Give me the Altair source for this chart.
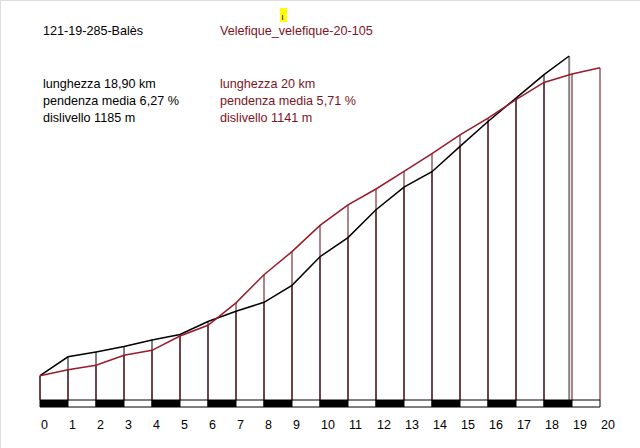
import altair as alt
import pandas as pd

# Balès profile (km, metres gained from start)
km_bales = [0, 1, 2, 3, 4, 5, 6, 7, 8, 9, 10, 11, 12, 13, 14, 15, 16, 17, 18, 18.9]
gain_bales = [0, 70, 88, 108, 132, 153, 201, 239, 272, 335, 441, 512, 615, 699, 756, 850, 942, 1029, 1116, 1185]

# Velefique profile
km_vel = list(range(0, 21))
gain_vel = [0, 22, 39, 76, 94, 147, 187, 270, 374, 460, 557, 633, 692, 757, 823, 893, 955, 1023, 1087, 1118, 1141]

# km scale
tick_km = list(range(0, 21))
seg_start = list(range(0, 20))

title_bales = "121-19-285-Balès"
title_vel = "Velefique_velefique-20-105"
info_bales = ["lunghezza 18,90 km", "pendenza media 6,27 %", "dislivello 1185 m"]
info_vel = ["lunghezza 20 km", "pendenza media 5,71 %", "dislivello 1141 m"]

RED = "#9a1a2a"
RED_TXT = "#7c1424"
VERT = "#5a0a14"
FONT = "Liberation Sans"

df_b = pd.DataFrame({"km": km_bales, "gain": gain_bales})
df_v = pd.DataFrame({"km": km_vel, "gain": gain_vel})
df_bv = df_b[df_b["km"] == df_b["km"].round()]
df_end = df_b[df_b["km"] == 18.9]
df_seg = pd.DataFrame({"s": seg_start, "e": [s + 1 for s in seg_start],
                       "fill": ["black" if s % 2 == 0 else "white" for s in seg_start]})
df_ticks = pd.DataFrame({"km": tick_km, "lab": [str(k) for k in tick_km]})

xs = alt.Scale(domain=[-40 / 28, 600 / 28], range=[0, 640], nice=False, zero=False)
ys = alt.Scale(domain=[-268, 1392.5], range=[448, 0], nice=False, zero=False)

X = lambda f="km": alt.X(f"{f}:Q", scale=xs, axis=None)
Y = alt.Y("gain:Q", scale=ys, axis=None)

base_line = alt.value(400)

vb = alt.Chart(df_bv).mark_rule(color="black", strokeWidth=1).encode(x=X(), y=Y, y2=base_line)
vv = alt.Chart(df_v).mark_rule(color=VERT, strokeWidth=1).encode(x=X(), y=Y, y2=base_line)
vend = alt.Chart(df_end).mark_rule(color="#858585", strokeWidth=2).encode(x=X(), y=Y, y2=base_line)

lb = alt.Chart(df_b).mark_line(color="black", strokeWidth=1.5).encode(x=X(), y=Y)
lv = alt.Chart(df_v).mark_line(color=RED, strokeWidth=1.5).encode(x=X(), y=Y)

bar = alt.Chart(df_seg).mark_rect(stroke="black", strokeWidth=1).encode(
    x=X("s"), x2="e:Q", y=alt.value(400), y2=alt.value(407),
    fill=alt.Fill("fill:N", scale=None))

ticks = alt.Chart(df_ticks).mark_text(align="left", baseline="middle", dx=1, fontSize=12.5,
                                      font=FONT, color="black").encode(
    x=X(), y=alt.value(425), text="lab:N")

def txt(s, x, y, color):
    return alt.Chart(pd.DataFrame({"t": [s]})).mark_text(
        align="left", baseline="middle", fontSize=12.6, font=FONT, color=color
    ).encode(x=alt.value(x), y=alt.value(y), text="t:N")

texts = [txt(title_bales, 43, 31, "black"), txt(title_vel, 220, 31, RED_TXT)]
for i, s in enumerate(info_bales):
    texts.append(txt(s, 43, 84 + 17 * i, "black"))
for i, s in enumerate(info_vel):
    texts.append(txt(s, 220, 84 + 17 * i, RED_TXT))

hl = alt.Chart(pd.DataFrame({"a": [0]})).mark_rect(color="#ffff00").encode(
    x=alt.value(280), x2=alt.value(287), y=alt.value(8), y2=alt.value(22))
hl_t = alt.Chart(pd.DataFrame({"t": ["ι"]})).mark_text(
    fontSize=9, font=FONT, color="black", align="center", baseline="middle"
).encode(x=alt.value(282.5), y=alt.value(17), text="t:N")

chart = alt.layer(vb, vv, vend, lb, lv, bar, ticks, *texts, hl, hl_t).properties(
    width=640, height=448, autosize="none", padding=0
).configure_view(stroke=None).configure(background="white")

chart.save("out.html", embed_options={"renderer": "svg", "actions": False})
